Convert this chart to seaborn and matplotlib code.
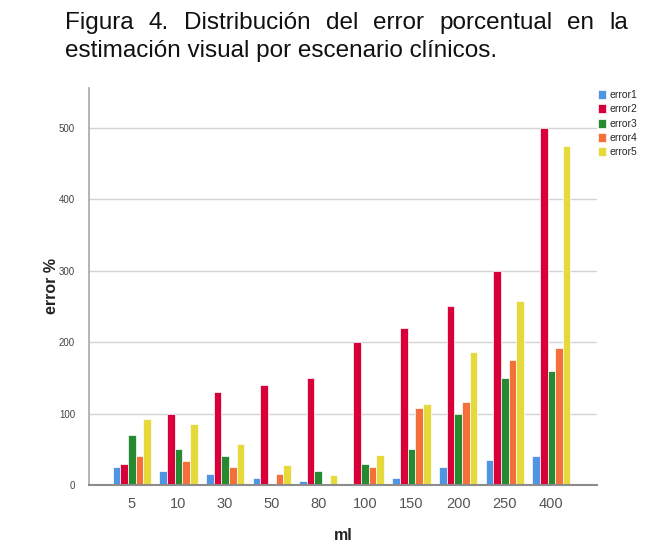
import matplotlib
matplotlib.use("Agg")
import matplotlib.pyplot as plt
import seaborn as sns
import pandas as pd

categories = ["5", "10", "30", "50", "80", "100", "150", "200", "250", "400"]
error1 = [25, 20, 15, 10, 5, 0, 10, 25, 35, 40]
error2 = [30, 100, 130, 140, 150, 200, 220, 250, 300, 500]
error3 = [70, 50, 40, 0, 20, 30, 50, 100, 150, 160]
error4 = [41, 33, 25, 16, 0, 25, 108, 116, 175, 192]
error5 = [92, 85, 57, 28, 14, 42, 114, 186, 257, 475]
series_names = ["error1", "error2", "error3", "error4", "error5"]
colors = ["#4f95e3", "#d9003a", "#258a30", "#f4703a", "#e6d93c"]

title_line1 = "Figura 4. Distribución del error porcentual en la"
title_line2 = "estimación visual por escenario clínicos."

rows = []
for name, vals in zip(series_names, [error1, error2, error3, error4, error5]):
    for c, v in zip(categories, vals):
        rows.append({"ml": c, "value": v, "serie": name})
df = pd.DataFrame(rows)

sns.set_theme(style="white")
plt.rcParams["font.family"] = ["Liberation Sans", "DejaVu Sans"]

W, H = 672, 557
fig = plt.figure(figsize=(W / 100, H / 100), dpi=100)
ax = fig.add_axes([89 / W, 1 - 485 / H, (597 - 89) / W, (485 - 88) / H])

sns.barplot(data=df, x="ml", y="value", hue="serie", order=categories,
            hue_order=series_names, palette=colors, saturation=1, width=0.82,
            edgecolor="white", linewidth=0.5, ax=ax, legend=True)

ax.set_xlim(-0.92, 9.98)
ax.set_ylim(0, 556)
ax.set_yticks([0, 100, 200, 300, 400, 500])
ax.yaxis.grid(True, color="#d4d4d4", linewidth=1.0)
ax.set_axisbelow(True)
ax.tick_params(axis="y", length=0, labelsize=7, labelcolor="#444444", pad=10)
ax.tick_params(axis="x", length=0, labelsize=10.5, labelcolor="#555555", pad=9)
for s in ["top", "right"]:
    ax.spines[s].set_visible(False)
ax.spines["left"].set_color("#a8a8a8")
ax.spines["left"].set_linewidth(1.2)
ax.spines["bottom"].set_color("#8c8c8c")
ax.spines["bottom"].set_linewidth(1.5)

ax.set_xlabel("ml", fontsize=11.5, fontweight="bold", color="#222222", labelpad=12)
ax.set_ylabel("error %", fontsize=11.5, fontweight="bold", color="#222222", labelpad=0)

handles, labels = ax.get_legend_handles_labels()
ax.get_legend().remove()
fig.legend(handles, labels, loc="upper left", bbox_to_anchor=(594 / W, 1 - 86 / H),
           frameon=False, fontsize=7.5, handlelength=0.75, handleheight=0.95,
           handletextpad=0.3, labelspacing=0.4, borderaxespad=0)

# Title: first line justified between x=65 and x=628
fs = 17.5
left_px, right_px = 65, 628
words = title_line1.split(" ")
fig.canvas.draw()
renderer = fig.canvas.get_renderer()
widths = []
for w in words:
    t = fig.text(0, 0, w, fontsize=fs, color="#111111")
    bb = t.get_window_extent(renderer=renderer)
    widths.append(bb.width)
    t.remove()
gap = (right_px - left_px - sum(widths)) / (len(words) - 1)
x = left_px
y1 = 1 - 29 / H
for w, wd in zip(words, widths):
    fig.text(x / W, y1, w, fontsize=fs, color="#111111", va="baseline", ha="left")
    x += wd + gap
fig.text(left_px / W, 1 - 57 / H, title_line2, fontsize=fs, color="#111111",
         va="baseline", ha="left")

fig.savefig("out.png", dpi=100)
